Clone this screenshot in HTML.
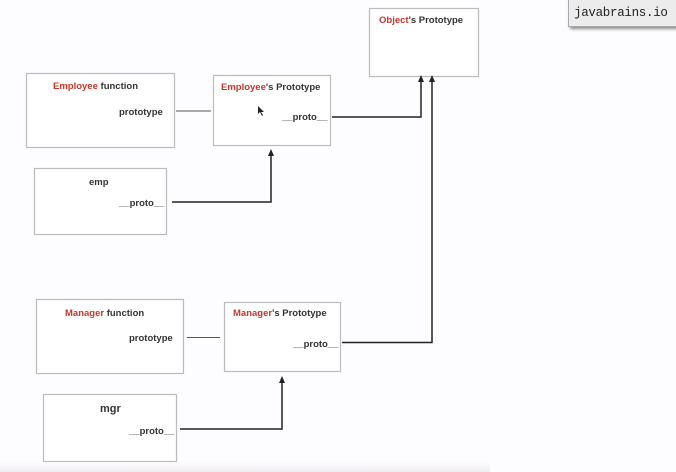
<!DOCTYPE html>
<html><head><style>
html,body{margin:0;padding:0;background:#fdfcfe;}
body{width:676px;height:472px;overflow:hidden;position:relative;font-family:"Liberation Sans",sans-serif;}
svg text{font-family:"Liberation Sans",sans-serif;font-size:9.5px;font-weight:bold;fill:#333;}
.r{fill:#c0392b;}
.wm{position:absolute;left:568px;top:-2px;width:112px;height:27px;background:#ececec;border:1px solid #aaa;box-shadow:2px 2px 3px #888;font-family:"Liberation Mono",monospace;font-size:12.5px;letter-spacing:-0.3px;line-height:28px;padding-left:5px;color:#222;white-space:nowrap;}
</style></head><body>
<svg width="676" height="472" style="position:absolute;left:0;top:0">
<defs><linearGradient id="g" x1="0" y1="0" x2="0" y2="1"><stop offset="0" stop-color="#fdfcfe"/><stop offset="1" stop-color="#eeecef"/></linearGradient></defs>
<rect x="0" y="462" width="490" height="10" fill="url(#g)"/>
<g fill="#fff" stroke="#bbb" stroke-width="1.2">
<rect x="369.5" y="8.5" width="109" height="68"/>
<rect x="26.5" y="73.5" width="148" height="74"/>
<rect x="213.5" y="75.5" width="117" height="70"/>
<rect x="34.5" y="168.5" width="132" height="66"/>
<rect x="36.5" y="299.5" width="147" height="74"/>
<rect x="224.5" y="302.5" width="116" height="69"/>
<rect x="43.5" y="394.5" width="133" height="67"/>
</g>
<g stroke="#555" stroke-width="1" fill="none">
<line x1="176" y1="111" x2="211" y2="111"/>
<line x1="187" y1="337.5" x2="220" y2="337.5"/>
</g>
<g stroke="#222" stroke-width="1.5" fill="none">
<polyline points="172,202 271,202 271,154"/>
<polyline points="332,117 421,117 421,80"/>
<polyline points="342,342.5 432,342.5 432,80"/>
<polyline points="180,429 282,429 282,381"/>
</g>
<g fill="#222">
<polygon points="268,156 274,156 271,149"/>
<polygon points="418,82 424,82 421,75"/>
<polygon points="429,82 435,82 432,75"/>
<polygon points="279,383 285,383 282,376"/>
</g>
<text x="379" y="23"><tspan class="r">Object</tspan>'s Prototype</text>
<text x="53" y="89"><tspan class="r">Employee</tspan> function</text>
<text x="119" y="115">prototype</text>
<text x="221" y="90"><tspan class="r">Employee</tspan>'s Prototype</text>
<text x="282" y="120">__proto__</text>
<text x="89" y="185">emp</text>
<text x="119" y="206">__proto__</text>
<text x="65" y="316"><tspan class="r">Manager</tspan> function</text>
<text x="129" y="341">prototype</text>
<text x="233" y="316"><tspan class="r">Manager</tspan>'s Prototype</text>
<text x="293" y="347">__proto__</text>
<text x="100" y="412" style="font-size:11px">mgr</text>
<text x="129" y="434">__proto__</text>
<path d="M258,106 l0,8 l2,-2 l2,4 l1,-1 l-2,-3 l3,0 z" fill="#222"/>
</svg>
<div class="wm">javabrains.io</div>
</body></html>
